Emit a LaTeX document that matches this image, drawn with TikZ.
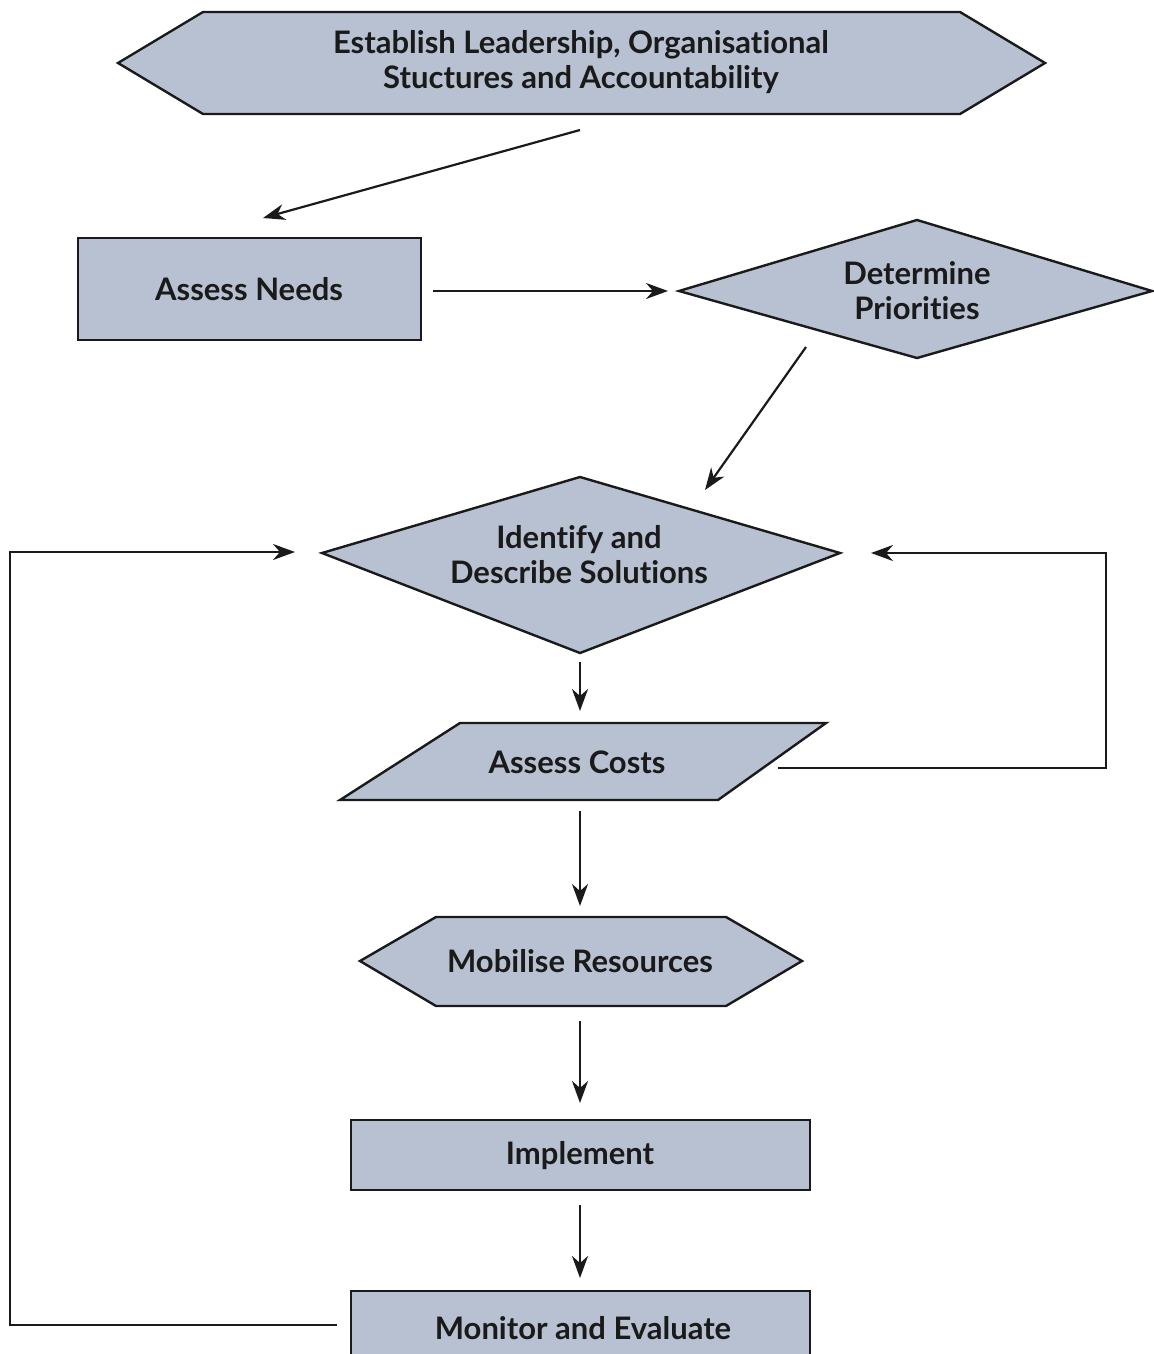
\documentclass[tikz,border=0pt]{standalone}
\usepackage{fontspec}
\setmainfont{Lato}[Ligatures={NoCommon}]
\usetikzlibrary{arrows.meta}
\definecolor{boxfill}{HTML}{B7C1D1}
\definecolor{ink}{HTML}{1A1A1A}
\begin{document}
\begin{tikzpicture}[x=0.5pt,y=-0.5pt,
  shp/.style={draw=ink,line width=1.2pt,fill=boxfill},
  lbl/.style={font=\bfseries\fontsize{15.5}{17.5}\selectfont,align=center,text=ink},
  arr/.style={draw=ink,line width=1.1pt,-{Stealth[length=11pt,width=8pt,inset=3.5pt]}},
  lin/.style={draw=ink,line width=1.1pt}]
\useasboundingbox (0,0) rectangle (1154,1354);
\clip (0,0) rectangle (1154,1354);
% shapes
\draw[shp] (118,63) -- (203,12) -- (960,12) -- (1045,63) -- (960,114) -- (203,114) -- cycle;
\node[lbl] (lead) at (581,62) {Establish Leadership, Organisational\\Stuctures and Accountability};
\draw[shp] (78,238) rectangle (421,340);
\node[lbl] (needs) at (249,289) {Assess Needs};
\draw[shp] (679,291) -- (917,220) -- (1152,291) -- (917,358) -- cycle;
\node[lbl] (prio) at (917,291) {Determine\\Priorities};
\draw[shp] (322,553) -- (580,477) -- (840,553) -- (580,653) -- cycle;
\node[lbl] (ident) at (579,555) {Identify and\\Describe Solutions};
\draw[shp] (340,800) -- (460,723) -- (826,723) -- (718,800) -- cycle;
\node[lbl] (costs) at (577,762) {Assess Costs};
\draw[shp] (360,961) -- (436,917) -- (726,917) -- (802,961) -- (726,1006) -- (436,1006) -- cycle;
\node[lbl] (mob) at (580,961) {Mobilise Resources};
\draw[shp] (351,1120) rectangle (810,1190);
\node[lbl] (impl) at (580,1156) {Implement};
\draw[shp] (351,1291) rectangle (810,1380);
\node[lbl] (mon) at (583,1328) {Monitor and Evaluate};
% connector ends
\coordinate (leadOut) at (580,130);
\coordinate (needsIn) at (263,218);
\coordinate (needsOut) at (433,291);
\coordinate (prioIn) at (668,291);
\coordinate (prioOut) at (806,347);
\coordinate (identIn) at (705,490);
\coordinate (identOut) at (580,662);
\coordinate (costsIn) at (580,711);
\coordinate (costsOut) at (580,811);
\coordinate (mobIn) at (580,906);
\coordinate (mobOut) at (580,1021);
\coordinate (implIn) at (580,1103);
\coordinate (implOut) at (580,1205);
\coordinate (monIn) at (580,1278);
\coordinate (monOut) at (337,1325);
\coordinate (identInL) at (295,552);
\coordinate (costsSide) at (778,768);
\coordinate (identInR) at (871,553);
% connectors
\draw[arr] (leadOut) -- (needsIn);
\draw[arr] (needsOut) -- (prioIn);
\draw[arr] (prioOut) -- (identIn);
\draw[arr] (identOut) -- (costsIn);
\draw[arr] (costsOut) -- (mobIn);
\draw[arr] (mobOut) -- (implIn);
\draw[arr] (implOut) -- (monIn);
\draw[arr] (monOut) -| (10,552) -- (identInL);
\draw[arr] (costsSide) -| (1106,553) -- (identInR);
\end{tikzpicture}
\end{document}
